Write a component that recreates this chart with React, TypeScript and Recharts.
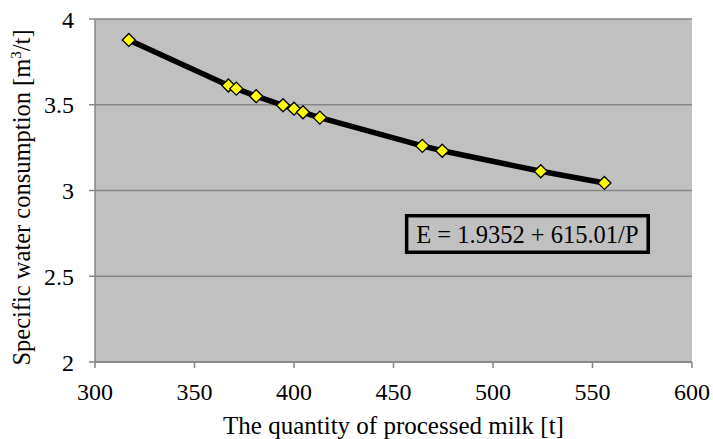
import {
  LineChart,
  Line,
  XAxis,
  YAxis,
  CartesianGrid,
  ReferenceArea,
} from "recharts";

// processed milk P [t] and specific water consumption E [m3/t]
const milk = [317, 367, 371, 381, 394.5, 400, 404.5, 413, 464.5, 474.5, 524, 556];
const water = [3.878, 3.612, 3.594, 3.55, 3.497, 3.477, 3.456, 3.425, 3.26, 3.232, 3.112, 3.044];

const xTicks = [300, 350, 400, 450, 500, 550, 600];
const yTicks = [2, 2.5, 3, 3.5, 4];

const equation = "E = 1.9352 + 615.01/P";
const xTitle = "The quantity of processed milk [t]";

const data = milk.map((p, i) => ({ p, e: water[i] }));

const FONT = '"Liberation Serif", "Times New Roman", serif';
const AXIS_GREY = "#868686";

const renderDiamond = (props: any) => {
  const { cx, cy, index } = props;
  if (cx == null || cy == null) return <g key={index} />;
  const r = 6.5;
  return (
    <path
      key={index}
      d={`M${cx},${cy - r} L${cx + r},${cy} L${cx},${cy + r} L${cx - r},${cy} Z`}
      fill="#ffff00"
      stroke="#000"
      strokeWidth={1.3}
    />
  );
};

const XTick = (props: any) => {
  const { x, y, payload } = props;
  return (
    <text x={x} y={y} dy="0.71em" textAnchor="middle" fontFamily={FONT} fontSize={24} fill="#000">
      {payload.value}
    </text>
  );
};

const YTick = (props: any) => {
  const { x, y, payload } = props;
  return (
    <text x={x} y={y} dy="0.355em" textAnchor="end" fontFamily={FONT} fontSize={24} fill="#000">
      {payload.value}
    </text>
  );
};

const YTitle = (props: any) => {
  const { viewBox } = props;
  const cx = viewBox.x - 3;
  const cy = viewBox.y + viewBox.height / 2 + 7;
  return (
    <text
      x={cx}
      y={cy}
      transform={`rotate(-90 ${cx} ${cy})`}
      textAnchor="middle"
      fontFamily={FONT}
      fontSize={24.5}
      fill="#000"
    >
      Specific water consumption [m
      <tspan fontSize={15} dy={-9}>
        3
      </tspan>
      <tspan dy={9}>/t]</tspan>
    </text>
  );
};

const XTitle = (props: any) => {
  const { viewBox } = props;
  return (
    <text
      x={viewBox.x + viewBox.width / 2}
      y={viewBox.y + 72}
      textAnchor="middle"
      fontFamily={FONT}
      fontSize={25}
      fill="#000"
    >
      {xTitle}
    </text>
  );
};

export default function App() {
  return (
    <div style={{ position: "absolute", left: 0, top: 0, background: "#fff" }}>
      <LineChart
        width={713}
        height={439}
        data={data}
        margin={{ top: 19, right: 21, bottom: 25, left: 33 }}
        style={{ fontFamily: FONT }}
      >
        <CartesianGrid
          vertical={false}
          stroke={AXIS_GREY}
          strokeWidth={1.5}
          fill="#c0c0c0"
          fillOpacity={1}
        />
        <XAxis
          dataKey="p"
          type="number"
          domain={[300, 600]}
          ticks={xTicks}
          height={52}
          tickSize={6}
          tickMargin={15}
          stroke={AXIS_GREY}
          strokeWidth={1.5}
          tick={XTick}
          label={{ content: XTitle }}
        />
        <YAxis
          dataKey="e"
          type="number"
          domain={[2, 4]}
          ticks={yTicks}
          width={62}
          tickSize={6}
          tickMargin={15}
          stroke={AXIS_GREY}
          strokeWidth={1.5}
          tick={YTick}
          label={{ content: YTitle }}
        />
        <Line
          dataKey="e"
          stroke="#000"
          strokeWidth={5.5}
          dot={renderDiamond}
          activeDot={false}
          isAnimationActive={false}
        />
        <ReferenceArea
          x1={456.6}
          x2={578}
          y1={2.64}
          y2={2.853}
          fill="#c0c0c0"
          fillOpacity={1}
          stroke="#000"
          strokeWidth={3.5}
          label={{
            value: equation,
            position: "center",
            fontSize: 24.5,
            fontFamily: FONT,
            fill: "#000",
          }}
        />
      </LineChart>
    </div>
  );
}
